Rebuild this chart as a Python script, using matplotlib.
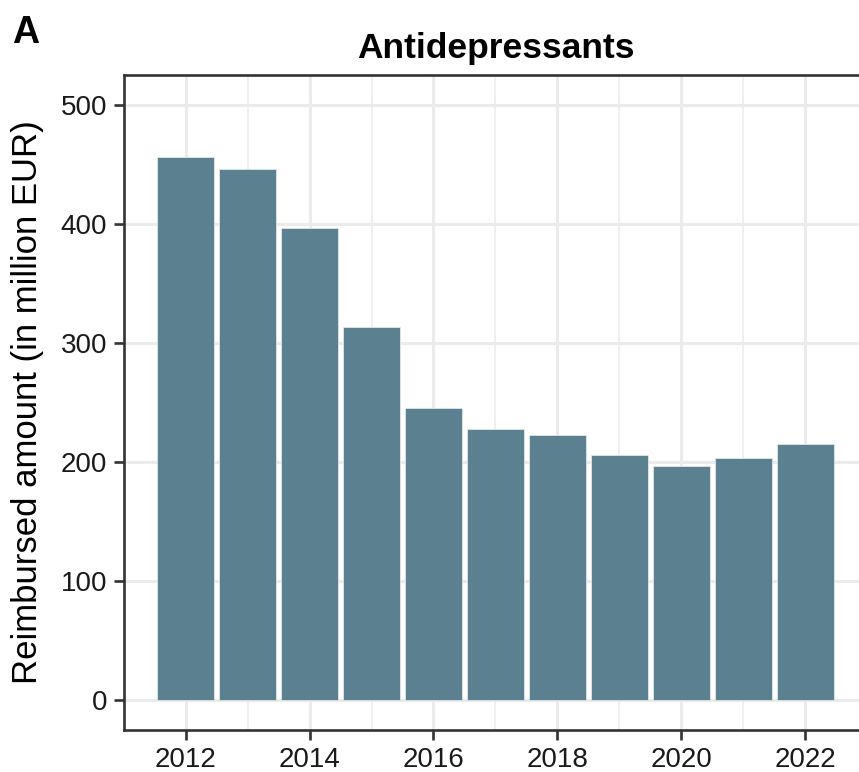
import matplotlib
matplotlib.use("Agg")
import matplotlib.pyplot as plt
from matplotlib.ticker import MultipleLocator

years = [2012, 2013, 2014, 2015, 2016, 2017, 2018, 2019, 2020, 2021, 2022]
amounts = [456.5, 446, 396.5, 313, 245, 227.5, 223, 206, 197, 203.5, 215.5]
title = "Antidepressants"
ylabel = "Reimbursed amount (in million EUR)"
panel_tag = "A"

plt.rcParams['font.family'] = ['Liberation Sans', 'DejaVu Sans']

fig = plt.figure(figsize=(8.59, 7.72), dpi=100)
ax = fig.add_axes([0.1444, 0.0544, 1.009 - 0.1444, 0.9028 - 0.0544])

ax.bar(years, amounts, width=0.92, color="#5b808f", edgecolor="#dfe6ea",
       linewidth=0.6, zorder=3)

ax.set_xlim(2011.005, 2022.995)
ax.set_ylim(-25, 525)
ax.xaxis.set_major_locator(MultipleLocator(2))
ax.xaxis.set_minor_locator(MultipleLocator(1))
ax.set_yticks([0, 100, 200, 300, 400, 500])

ax.grid(which='major', color='#ebebee', linewidth=2.2, zorder=0)
ax.grid(which='minor', axis='x', color='#ebebee', linewidth=1.1, zorder=0)
ax.set_axisbelow(True)

for side in ['left', 'bottom', 'top']:
    ax.spines[side].set_color('#333333')
    ax.spines[side].set_linewidth(1.9)
ax.spines['right'].set_visible(False)

ax.tick_params(which='major', length=7, width=1.9, color='#333333',
               labelsize=20, labelcolor='#1a1a1a', pad=5)
ax.tick_params(which='minor', length=0)

ax.set_title(title, fontsize=25.5, fontweight='bold', pad=12)
ax.set_ylabel(ylabel, fontsize=25, labelpad=12)
fig.text(12 / 859, 1 - 43 / 772, panel_tag, fontsize=27, fontweight='bold',
         ha='left', va='baseline')

fig.savefig("out.png", dpi=100)
